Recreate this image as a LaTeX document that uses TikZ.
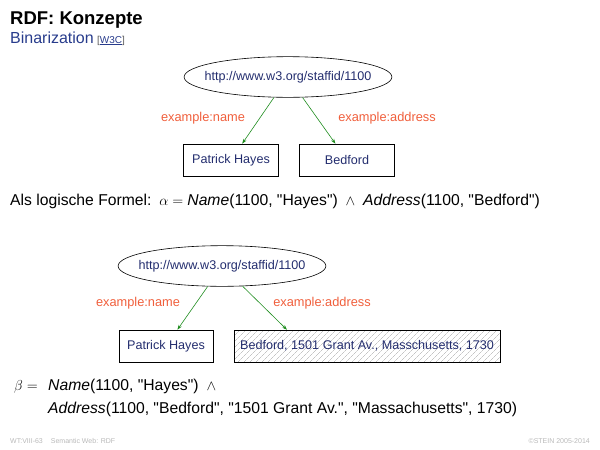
\documentclass[tikz,border=0pt]{standalone}
\usepackage{fontspec}
\setmainfont{Liberation Sans}
\usetikzlibrary{shapes.geometric,patterns.meta,arrows.meta}
\definecolor{nodetxt}{RGB}{35,45,110}
\definecolor{lbl}{RGB}{240,95,60}
\definecolor{arr}{RGB}{30,140,30}
\definecolor{subt}{RGB}{40,60,140}
\newcommand{\qq}{\textquotedbl}
\begin{document}
\begin{tikzpicture}[x=1pt,y=-1pt,
  res/.style={ellipse,draw,line width=0.6pt,inner xsep=-10pt,inner ysep=8.5pt,text=nodetxt,font=\fontsize{12.6}{14}\selectfont},
  lit/.style={rectangle,draw,line width=0.6pt,minimum height=32pt,inner sep=2pt,text=nodetxt,font=\fontsize{12.6}{14}\selectfont},
  prop/.style={text=lbl,font=\fontsize{12.8}{14}\selectfont},
  edge/.style={draw=arr,line width=0.6pt,-{Stealth[length=5pt,width=3.5pt]}},
  body/.style={anchor=base west,inner sep=0pt,font=\fontsize{15.7}{18}\selectfont},
  foot/.style={inner sep=0pt,text=gray!55,font=\fontsize{7}{8}\selectfont}]
\useasboundingbox (0,0) rectangle (600,450);
% title
\node[anchor=base west,inner sep=0pt,font=\bfseries\fontsize{18.5}{20}\selectfont] (title) at (10,24) {RDF: Konzepte};
\node[anchor=base west,inner sep=0pt,text=subt,font=\fontsize{16}{18}\selectfont] (sub) at (10,43) {Binarization};
\node[anchor=base west,inner sep=0pt,text=gray!70!black,font=\fontsize{10}{11}\selectfont] (w3c) at (97,43) {[\textcolor{subt}{\underline{W3C}}]};
% graph 1
\node[res] (r1) at (288,77) {http://www.w3.org/staffid/1100};
\node[lit,minimum width=95pt] (n1) at (231,160) {Patrick Hayes};
\node[lit,minimum width=95pt] (a1) at (347,160) {Bedford};
\draw[edge] (r1) -- (n1);
\draw[edge] (r1) -- (a1);
\node[prop] (pn1) at (203,118) {example:name};
\node[prop] (pa1) at (387,118) {example:address};
% formula 1
\node[body] (f1) at (10,205) {Als logische Formel:\enspace $\alpha=\textit{Name}$(1100, \qq Hayes\qq)\enspace$\wedge$\enspace\textit{Address}(1100, \qq Bedford\qq)};
% graph 2
\node[res] (r2) at (222,266) {http://www.w3.org/staffid/1100};
\node[lit,minimum width=94pt] (n2) at (166,346) {Patrick Hayes};
\node[lit,minimum width=266pt,pattern={Lines[angle=45,distance=4pt,line width=0.4pt]},pattern color=gray!70] (a2) at (367,346) {};
\node[lit,minimum width=266pt,draw=none] (a2t) at (367,346) {Bedford, 1501 Grant Av., Masschusetts, 1730};
\draw[edge] (r2) -- (n2);
\draw[edge] (r2) -- ([xshift=-80pt]a2.north);
\node[prop] (pn2) at (138,303) {example:name};
\node[prop] (pa2) at (322,303) {example:address};
% formula 2
\node[body] (b1) at (14,390) {$\beta=$};
\node[body] (b2) at (48,390) {\textit{Name}(1100, \qq Hayes\qq)\enspace$\wedge$};
\node[body] (b3) at (48,413) {\textit{Address}(1100, \qq Bedford\qq, \qq 1501 Grant Av.\qq, \qq Massachusetts\qq, 1730)};
% footer
\node[foot,anchor=base west] (fl) at (10,443) {WT:VIII-63\hspace{8pt}Semantic Web: RDF};
\node[foot,anchor=base east] (fr) at (590,443) {\textcopyright STEIN 2005-2014};
\end{tikzpicture}
\end{document}
